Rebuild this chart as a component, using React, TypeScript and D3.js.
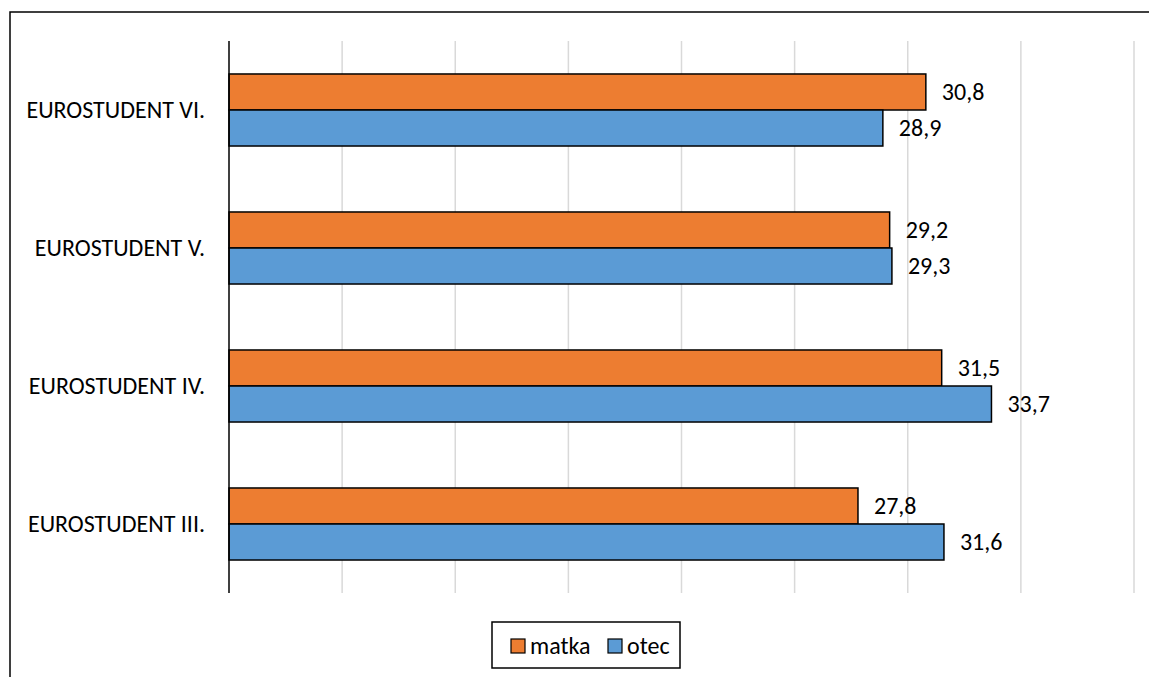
import React from "react";
import * as d3 from "d3";

// kategorie v pořadí shora dolů
const categories = ["EUROSTUDENT VI.", "EUROSTUDENT V.", "EUROSTUDENT IV.", "EUROSTUDENT III."];
const seriesNames = ["matka", "otec"];
const matka = [30.8, 29.2, 31.5, 27.8];
const otec = [28.9, 29.3, 33.7, 31.6];
const xTicks = [0, 5, 10, 15, 20, 25, 30, 35, 40];

const colors: Record<string, string> = { matka: "#ED7D31", otec: "#5B9BD5" };
const font = "Carlito, Calibri, 'Open Sans', sans-serif";

export default function App() {
  const width = 1149;
  const height = 677;
  const plot = { left: 229, right: 1134, top: 41, bottom: 593 };

  const x = d3.scaleLinear().domain([0, 40]).range([plot.left, plot.right]);
  const y = d3
    .scaleBand<string>()
    .domain(categories)
    .range([plot.top, plot.bottom])
    .paddingInner(0.478)
    .paddingOuter(0.239);
  const sub = d3.scaleBand<string>().domain(seriesNames).range([0, y.bandwidth()]);

  const values: Record<string, number[]> = { matka, otec };
  const fmt = (v: number) => v.toFixed(1).replace(".", ",");

  return (
    <svg
      width={width}
      height={height}
      style={{ position: "absolute", left: 0, top: 0, background: "#fff" }}
      fontFamily={font}
    >
      {/* rámeček grafu */}
      <rect x={10} y={12} width={1160} height={700} fill="none" stroke="#000" strokeWidth={1.5} />

      {/* mřížka */}
      {xTicks.slice(1).map((t) => (
        <line key={t} x1={x(t)} x2={x(t)} y1={plot.top} y2={plot.bottom} stroke="#d9d9d9" strokeWidth={1.5} />
      ))}

      {categories.map((c, i) =>
        seriesNames.map((s) => {
          const v = values[s][i];
          const by = (y(c) ?? 0) + (sub(s) ?? 0);
          return (
            <g key={c + s}>
              <rect
                x={x(0)}
                y={by}
                width={x(v) - x(0)}
                height={sub.bandwidth()}
                fill={colors[s]}
                stroke="#000"
                strokeWidth={1.5}
              />
              <text x={x(v) + 16} y={by + sub.bandwidth() / 2} dy="0.35em" fontSize={24} fill="#000">
                {fmt(v)}
              </text>
            </g>
          );
        })
      )}

      {/* osa y */}
      <line x1={plot.left} x2={plot.left} y1={plot.top} y2={plot.bottom} stroke="#000" strokeWidth={1.5} />

      {categories.map((c) => (
        <text
          key={c}
          x={205}
          y={(y(c) ?? 0) + y.bandwidth() / 2}
          dy="0.35em"
          textAnchor="end"
          fontSize={24}
          fill="#000"
        >
          {c}
        </text>
      ))}

      {/* legenda */}
      <g>
        <rect x={492} y={622} width={188} height={46} fill="#fff" stroke="#000" strokeWidth={1.5} />
        {seriesNames.map((s, i) => {
          const lx = i === 0 ? 511 : 608;
          return (
            <g key={s}>
              <rect x={lx} y={639} width={14} height={14} fill={colors[s]} stroke="#000" strokeWidth={1.2} />
              <text x={lx + 19} y={646} dy="0.35em" fontSize={24} fill="#000">
                {s}
              </text>
            </g>
          );
        })}
      </g>
    </svg>
  );
}
